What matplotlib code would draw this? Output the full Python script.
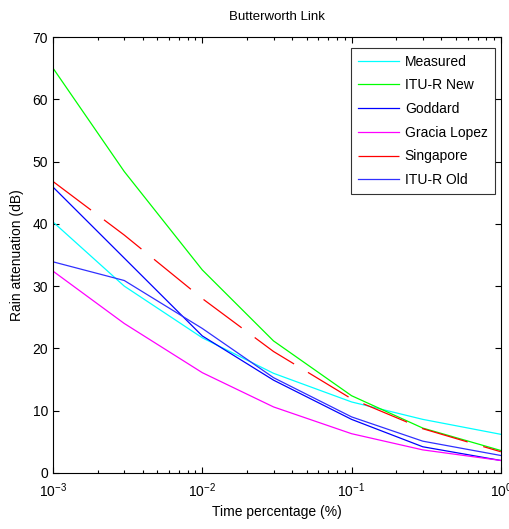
import matplotlib
matplotlib.use("Agg")
import matplotlib.pyplot as plt
from matplotlib.ticker import LogLocator, FixedLocator

plt.rcParams['font.family'] = ['Liberation Sans', 'DejaVu Sans']
plt.rcParams['mathtext.default'] = 'regular'

# Porcentaje de tiempo (%)
time_pct = [0.001, 0.003, 0.01, 0.03, 0.1, 0.3, 1]

# Atenuacion por lluvia (dB) de cada modelo
measured = [40.3, 30.0, 21.7, 16.0, 11.4, 8.6, 6.2]
itu_new = [65.0, 48.4, 32.6, 21.2, 12.4, 7.2, 3.6]
goddard = [45.9, 34.5, 22.0, 14.9, 8.6, 4.2, 2.0]
gracia_lopez = [32.4, 24.0, 16.1, 10.6, 6.3, 3.7, 2.0]
singapore = [46.8, 38.2, 28.0, 19.5, 11.9, 7.1, 3.4]
itu_old = [33.9, 30.9, 23.2, 15.3, 9.0, 5.1, 2.8]

fig = plt.figure(figsize=(5.1, 5.29), dpi=100)
ax = fig.add_axes([0.104, 0.106, 0.878, 0.824])

lw = 0.9
ax.plot(time_pct, measured, color='cyan', lw=lw, label='Measured')
ax.plot(time_pct, itu_new, color='lime', lw=lw, label='ITU-R New')
ax.plot(time_pct, goddard, color='blue', lw=lw, label='Goddard')
ax.plot(time_pct, gracia_lopez, color='magenta', lw=lw, label='Gracia Lopez')
ax.plot(time_pct, singapore, color='red', lw=lw, dashes=(38, 13), label='Singapore')
ax.plot(time_pct, itu_old, color='#3030ff', lw=lw, label='ITU-R Old')

ax.set_xscale('log')
ax.set_xlim(1e-3, 1)
ax.set_ylim(0, 70)
ax.yaxis.set_major_locator(FixedLocator(range(0, 71, 10)))
ax.xaxis.set_minor_locator(LogLocator(base=10, subs=range(2, 10)))

ax.tick_params(which='both', direction='in', top=True, right=True, labelsize=10)
ax.tick_params(which='major', length=4, width=0.8)
ax.tick_params(which='minor', length=2, width=0.8)
ax.tick_params(axis='x', which='major', pad=6)
for s in ax.spines.values():
    s.set_linewidth(0.8)

ax.set_title('Butterworth Link', fontsize=9.5, pad=12)
ax.set_xlabel('Time percentage (%)', fontsize=10, labelpad=4)
ax.set_ylabel('Rain attenuation (dB)', fontsize=10, labelpad=6)

leg = ax.legend(loc='upper right', bbox_to_anchor=(1.0, 0.99), fontsize=10, fancybox=False,
                edgecolor='black', handlelength=2.9, borderaxespad=0.45, labelspacing=0.7,
                handletextpad=0.45, borderpad=0.5)
leg.get_frame().set_linewidth(0.8)

fig.savefig('out.png', dpi=100)
